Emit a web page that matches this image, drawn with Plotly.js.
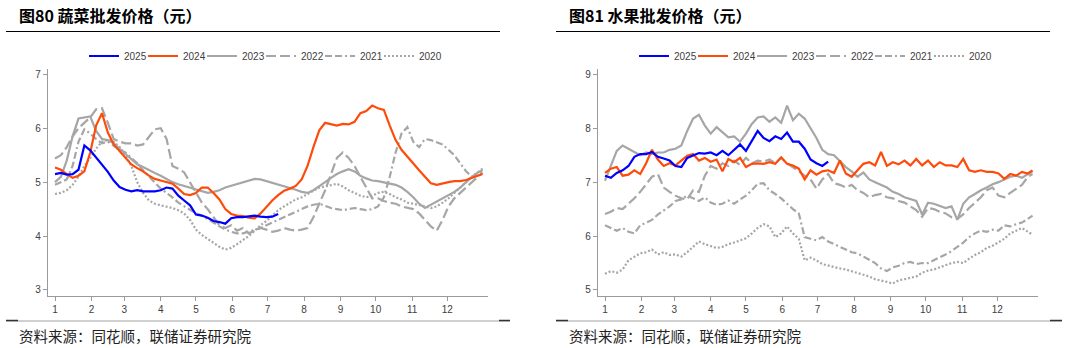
<!DOCTYPE html>
<html><head><meta charset="utf-8">
<script src="https://cdn.plot.ly/plotly-3.0.1.min.js"></script>
<style>html,body{margin:0;padding:0;background:#fff;}#chart{width:1066px;height:348px;}</style>
</head><body><div id="chart"></div>
<script>
// x positions: day of year (0 = Jan 1)
const days = [0,5,10,15,20,25,30,35,40,45,50,55,60,65,70,75,80,85,90,95,100,105,110,115,120,125,130,135,140,145,150,155,160,165,170,175,180,185,190,195,200,205,210,215,220,225,230,235,240,245,250,255,260,265,270,275,280,285,290,295,300,305,310,315,320,325,330,335,340,345,350,355,360,364];
const monthStarts = [0,31,59,90,120,151,181,212,243,273,304,334];
const monthLabels = ['1','2','3','4','5','6','7','8','9','10','11','12'];
const years = ['2025','2024','2023','2022','2021','2020'];

// 蔬菜批发价格
const veg2025 = [5.15,5.17,5.14,5.15,5.23,5.68,5.59,5.46,5.31,5.19,5.03,4.91,4.86,4.83,4.85,4.83,4.83,4.83,4.85,4.9,4.88,4.75,4.66,4.57,4.4,4.38,4.34,4.28,4.26,4.23,4.33,4.35,4.35,4.36,4.38,4.36,4.35,4.36,4.41];
const veg2024 = [5.27,5.23,5.15,5.08,5.12,5.2,5.55,6.05,6.28,5.92,5.7,5.58,5.45,5.33,5.26,5.2,5.12,5.06,5.03,5.0,4.97,4.88,4.78,4.76,4.8,4.9,4.9,4.8,4.68,4.5,4.41,4.38,4.37,4.34,4.33,4.42,4.55,4.66,4.76,4.84,4.88,4.93,5.05,5.3,5.65,5.96,6.1,6.08,6.05,6.08,6.07,6.12,6.28,6.32,6.42,6.37,6.34,6.05,5.78,5.6,5.47,5.33,5.22,5.1,4.98,4.95,4.98,5.0,5.02,5.02,5.04,5.08,5.12,5.15];
const veg2023 = [5.0,5.1,5.4,5.85,6.18,6.2,6.22,5.95,5.8,5.78,5.72,5.62,5.52,5.42,5.33,5.28,5.22,5.17,5.12,5.06,5.0,4.96,4.93,4.9,4.87,4.84,4.8,4.82,4.85,4.9,4.93,4.97,5.0,5.03,5.06,5.05,5.02,4.98,4.95,4.92,4.9,4.86,4.82,4.8,4.85,4.92,5.0,5.08,5.15,5.2,5.24,5.2,5.12,5.07,5.03,5.02,5.0,4.98,4.95,4.9,4.82,4.72,4.6,4.52,4.58,4.64,4.7,4.76,4.82,4.9,5.0,5.1,5.18,5.22];
const veg2022 = [5.44,5.5,5.65,5.85,6.0,6.1,6.2,6.35,6.37,6.1,5.8,5.75,5.72,5.72,5.68,5.7,5.85,5.98,6.0,5.8,5.3,5.25,5.18,5.0,4.8,4.62,4.5,4.35,4.2,4.15,4.2,4.1,4.15,4.05,4.1,4.15,4.12,4.08,4.1,4.15,4.12,4.1,4.12,4.15,4.35,4.6,4.85,5.15,5.45,5.55,5.45,5.3,5.1,4.88,4.7,4.7,4.65,4.62,4.6,4.55,4.52,4.5,4.42,4.3,4.18,4.1,4.3,4.55,4.7,4.8,4.9,5.0,5.1,5.18];
const veg2021 = [4.95,5.0,5.05,5.3,5.75,5.98,5.9,5.8,5.72,5.75,5.68,5.6,5.55,5.45,5.35,5.22,5.1,4.98,4.88,4.8,4.72,4.62,4.55,4.48,4.42,4.38,4.32,4.25,4.18,4.12,4.08,4.05,4.05,4.08,4.12,4.15,4.2,4.25,4.3,4.35,4.4,4.45,4.5,4.55,4.58,4.6,4.56,4.52,4.5,4.48,4.5,4.52,4.5,4.48,4.5,4.55,4.72,5.1,5.55,5.9,6.02,5.75,5.65,5.8,5.78,5.74,5.7,5.6,5.5,5.35,5.2,5.1,5.15,5.22];
const veg2020 = [4.78,4.8,4.85,4.95,5.1,5.3,5.45,5.62,5.75,5.78,5.75,5.65,5.5,5.3,5.0,4.8,4.66,4.6,4.57,4.55,4.52,4.48,4.42,4.3,4.12,4.02,3.95,3.88,3.8,3.75,3.78,3.85,3.92,4.0,4.1,4.2,4.28,4.38,4.48,4.55,4.62,4.68,4.72,4.78,4.85,4.9,4.92,4.95,4.97,4.92,4.85,4.8,4.75,4.72,4.75,4.8,4.82,4.78,4.72,4.68,4.62,4.6,4.58,4.55,4.52,4.55,4.62,4.7,4.8,4.9,5.0,5.1,5.18,5.25];

// 水果批发价格
const fruit2025 = [7.12,7.08,7.17,7.22,7.3,7.47,7.52,7.52,7.56,7.47,7.44,7.4,7.3,7.28,7.45,7.5,7.54,7.53,7.55,7.5,7.58,7.5,7.6,7.7,7.58,7.77,7.95,7.82,7.76,7.85,7.8,7.92,7.75,7.75,7.62,7.42,7.35,7.3,7.38];
const fruit2024 = [7.17,7.25,7.28,7.12,7.14,7.22,7.15,7.35,7.6,7.42,7.3,7.35,7.31,7.4,7.49,7.52,7.4,7.45,7.38,7.42,7.2,7.43,7.37,7.45,7.28,7.34,7.35,7.34,7.37,7.34,7.46,7.34,7.31,7.25,7.05,7.22,7.14,7.2,7.22,7.17,7.4,7.16,7.1,7.22,7.34,7.37,7.31,7.56,7.3,7.37,7.33,7.4,7.31,7.43,7.31,7.4,7.28,7.37,7.31,7.31,7.28,7.43,7.22,7.19,7.22,7.19,7.19,7.16,7.06,7.15,7.12,7.19,7.16,7.22];
const fruit2023 = [7.03,7.3,7.58,7.68,7.62,7.55,7.5,7.55,7.52,7.55,7.55,7.6,7.62,7.68,7.95,8.18,8.25,8.05,7.9,8.02,7.92,7.83,7.85,7.75,7.9,8.08,8.2,8.22,8.12,8.2,8.1,8.42,8.15,8.27,8.18,8.0,7.82,7.6,7.52,7.5,7.38,7.28,7.2,7.1,7.18,7.05,7.0,6.95,6.9,6.82,6.78,6.72,6.68,6.65,6.4,6.62,6.6,6.56,6.52,6.55,6.3,6.6,6.72,6.78,6.85,6.9,6.96,7.0,7.05,7.1,7.12,7.08,7.15,7.2];
const fruit2022 = [6.41,6.45,6.52,6.5,6.6,6.7,6.82,6.95,7.1,7.15,6.9,6.82,6.75,6.7,6.68,6.85,6.82,7.12,7.3,7.25,7.35,7.3,7.4,7.32,7.45,7.35,7.4,7.38,7.42,7.35,7.45,7.35,7.28,7.2,7.12,7.05,6.88,7.05,7.15,6.98,6.95,6.9,6.95,6.85,6.8,6.72,6.76,6.78,6.72,6.7,6.65,6.62,6.55,6.48,6.36,6.52,6.5,6.45,6.42,6.35,6.32,6.4,6.52,6.62,6.72,6.85,6.9,6.75,6.72,6.8,6.88,6.95,7.1,7.15];
const fruit2021 = [6.2,6.15,6.1,6.15,6.08,6.05,6.2,6.25,6.3,6.4,6.48,6.55,6.65,6.68,6.75,6.7,6.65,6.72,6.62,6.58,6.6,6.66,6.6,6.68,6.75,6.85,6.97,6.98,6.85,6.78,6.7,6.6,6.5,6.42,5.98,5.95,5.92,5.98,5.9,5.85,5.8,5.75,5.7,5.68,5.62,5.55,5.5,5.4,5.35,5.42,5.45,5.5,5.52,5.48,5.5,5.5,5.55,5.6,5.66,5.72,5.8,5.88,5.98,6.05,6.1,6.08,6.12,6.1,6.2,6.18,6.22,6.25,6.32,6.38];
const fruit2020 = [5.3,5.35,5.32,5.38,5.55,5.62,5.68,5.7,5.75,5.66,5.7,5.65,5.66,5.62,5.7,5.8,5.9,5.85,5.82,5.78,5.8,5.85,5.88,5.92,5.96,6.05,6.15,6.22,6.18,5.98,6.05,6.18,6.05,5.95,5.55,5.6,5.55,5.48,5.45,5.42,5.4,5.38,5.35,5.32,5.28,5.25,5.2,5.18,5.15,5.12,5.18,5.2,5.22,5.25,5.32,5.36,5.38,5.42,5.45,5.5,5.52,5.5,5.58,5.65,5.7,5.78,5.82,5.88,5.95,6.05,6.1,6.15,6.08,6.03];

const vegSeries = {'2025':veg2025,'2024':veg2024,'2023':veg2023,'2022':veg2022,'2021':veg2021,'2020':veg2020};
const fruitSeries = {'2025':fruit2025,'2024':fruit2024,'2023':fruit2023,'2022':fruit2022,'2021':fruit2021,'2020':fruit2020};

const styles = {
  '2025': {color:'#0000ff', dash:'solid', rank:1, lw:14},
  '2024': {color:'#ff4b0a', dash:'solid', rank:2, lw:14},
  '2023': {color:'#a6a6a6', dash:'solid', rank:3, lw:14},
  '2022': {color:'#a6a6a6', dash:'10px,4px', rank:4, lw:14},
  '2021': {color:'#a6a6a6', dash:'7px,3px,7px,3px,2px,3px', rank:5, lw:14},
  '2020': {color:'#a6a6a6', dash:'2px,2px', rank:6, lw:26}
};

const W = 1066, H = 348;
const px = x => x / W;
const py = y => 1 - y / H;

const traces = [];
const drawOrder = ['2020','2021','2022','2023','2024','2025'];
[[vegSeries,'x','y','legend'],[fruitSeries,'x2','y2','legend2']].forEach(([series, xa, ya, lg]) => {
  drawOrder.forEach(yr => {
    const vals = series[yr];
    const st = styles[yr];
    traces.push({
      type:'scatter', mode:'lines', name: yr,
      x: days.slice(0, vals.length), y: vals,
      xaxis: xa, yaxis: ya, legend: lg, legendrank: st.rank, legendwidth: st.lw,
      line: {color: st.color, width: 2.2, dash: st.dash},
      hoverinfo: 'skip'
    });
  });
});

const tickFont = {family:'Arial, Liberation Sans, sans-serif', size:10, color:'#404040'};
function xAxis(l, r, anchor) {
  return {domain:[px(l), px(r)], range:[-5.7, 368.9], anchor: anchor,
    tickmode:'array', tickvals: monthStarts, ticktext: monthLabels,
    ticks:'outside', ticklen:4, tickwidth:1, tickcolor:'#9a9a9a',
    showline:true, linecolor:'#9a9a9a', linewidth:1.5,
    showgrid:false, zeroline:false, tickfont: tickFont, fixedrange:true};
}
function yAxis(lo, hi, anchor) {
  return {domain:[py(295.7), py(69.3)], range:[lo, hi], anchor: anchor, dtick:1, tick0:0,
    ticks:'outside', ticklen:4, tickwidth:1, tickcolor:'#9a9a9a',
    showline:true, linecolor:'#9a9a9a', linewidth:1.5,
    showgrid:false, zeroline:false, tickfont: tickFont, fixedrange:true};
}
function legendAt(x) {
  return {orientation:'h', x: px(x), xanchor:'left', y: py(56), yanchor:'middle',
    bgcolor:'rgba(0,0,0,0)', borderwidth:0,
    font:{family:'Arial, Liberation Sans, sans-serif', size:10, color:'#404040'},
    itemclick:false, itemdoubleclick:false};
}
function line(x0, y0, x1, y1, color, width) {
  return {type:'line', xref:'paper', yref:'paper', x0:px(x0), y0:py(y0), x1:px(x1), y1:py(y1),
    line:{color:color, width:width}};
}
const titleFont = {family:'Noto Sans CJK SC, sans-serif', size:16, color:'#000'};
const srcFont = {family:'Noto Sans CJK SC, sans-serif', size:14.5, color:'#222'};
function ann(text, x, y, font) {
  return {text:text, xref:'paper', yref:'paper', x:px(x), y:py(y), xanchor:'left', yanchor:'middle',
    showarrow:false, font:font};
}

const layout = {
  width: W, height: H, margin:{l:0, r:0, t:0, b:0},
  paper_bgcolor:'#fff', plot_bgcolor:'rgba(0,0,0,0)',
  showlegend:true,
  xaxis: xAxis(48.3, 488.3, 'y'),
  yaxis: yAxis(2.894, 7.093, 'x'),
  xaxis2: xAxis(598.3, 1038.3, 'y2'),
  yaxis2: yAxis(4.894, 9.093, 'x2'),
  legend: legendAt(84),
  legend2: legendAt(634),
  annotations: [
    ann('<b>图80 蔬菜批发价格（元）</b>', 17, 15, titleFont),
    ann('<b>图81 水果批发价格（元）</b>', 567, 15, titleFont),
    ann('资料来源：同花顺，联储证券研究院', 17, 335, srcFont),
    ann('资料来源：同花顺，联储证券研究院', 567, 335, srcFont)
  ],
  shapes: [
    line(6, 31.5, 500, 31.5, '#000', 1),
    line(556, 31.5, 1050, 31.5, '#000', 1),
    line(6, 321, 510, 321, '#a0a0a0', 1),
    line(6, 320.5, 18, 320.5, '#333', 1.5),
    line(499, 320.5, 510, 320.5, '#333', 1.5),
    line(556, 321, 1062, 321, '#a0a0a0', 1),
    line(556, 320.5, 568, 320.5, '#333', 1.5),
    line(1050, 320.5, 1062, 320.5, '#333', 1.5)
  ]
};

Plotly.newPlot('chart', traces, layout, {displayModeBar:false, staticPlot:true});
</script></body></html>
